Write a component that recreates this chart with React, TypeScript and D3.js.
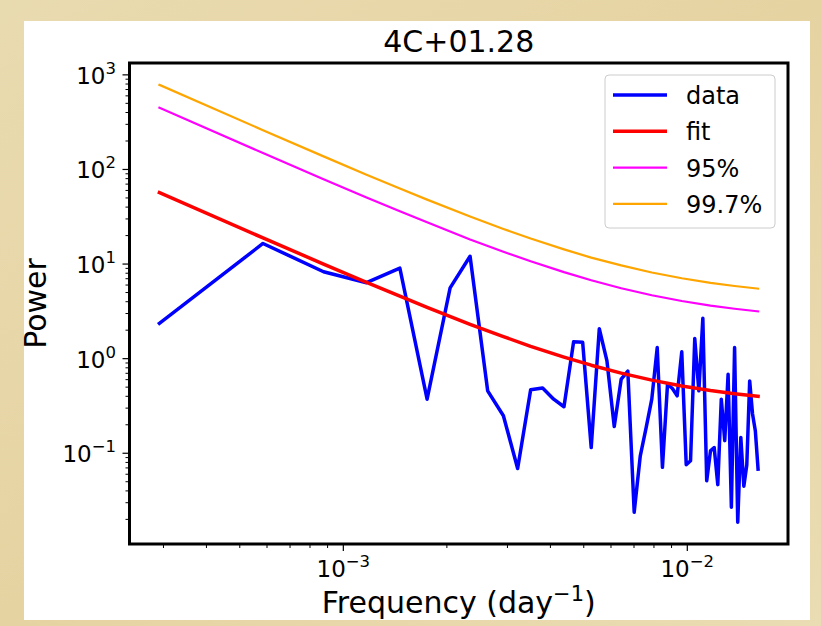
import React from "react";
import * as d3 from "d3";

const title = "4C+01.28";
const xLabel = "Frequency (day";
const yLabel = "Power";

const frequencies = [
  0.000292, 0.000584, 0.000876, 0.001168, 0.00146, 0.001752, 0.002044, 0.002336, 0.002628, 0.00292,
  0.003212, 0.003504, 0.003796, 0.004088, 0.00438, 0.004672, 0.004964, 0.005256, 0.005548, 0.00584,
  0.006132, 0.006424, 0.006716, 0.007008, 0.0073, 0.007592, 0.007884, 0.008176, 0.008468, 0.00876,
  0.009052, 0.009344, 0.009636, 0.009928, 0.01022, 0.010512, 0.010804, 0.011096, 0.011388, 0.01168,
  0.011972, 0.012264, 0.012556, 0.012848, 0.01314, 0.013432, 0.013724, 0.014016, 0.014308, 0.0146,
  0.014892, 0.015184, 0.015476, 0.015768, 0.01606,
];

const power = [
  2.36, 16.5, 8.3, 6.35, 9.05, 0.373, 5.6, 12.1, 0.457, 0.249,
  0.069, 0.468, 0.49, 0.373, 0.31, 1.51, 1.49, 0.115, 2.07, 0.946,
  0.192, 0.607, 0.74, 0.0238, 0.094, 0.187, 0.373, 1.31, 0.071, 0.537,
  0.483, 0.405, 1.18, 0.0757, 0.0834, 1.63, 0.457, 2.67, 0.0513, 0.106,
  0.115, 0.0466, 0.373, 0.136, 0.684, 0.0269, 1.31, 0.0187, 0.147, 0.0448,
  0.0752, 0.582, 0.26, 0.173, 0.068,
];

const curveFrequencies = [
  0.000292, 0.000584, 0.000876, 0.001168, 0.00146, 0.001752, 0.002336, 0.00292, 0.003504,
  0.00438, 0.005256, 0.006424, 0.007884, 0.009636, 0.01168, 0.013724, 0.01606,
];
const fitValues = [57.0, 18.9, 10.0, 6.41, 4.57, 3.49, 2.31, 1.71, 1.35, 1.04, 0.853, 0.703, 0.593, 0.515, 0.46, 0.426, 0.4];
const conf95 = [450, 149, 79.0, 50.6, 36.1, 27.6, 18.2, 13.5, 10.7, 8.22, 6.74, 5.55, 4.68, 4.07, 3.63, 3.37, 3.16];
const conf997 = [784, 260, 137.5, 88.1, 62.8, 48.0, 31.8, 23.5, 18.6, 14.3, 11.7, 9.67, 8.15, 7.08, 6.33, 5.86, 5.5];

const xTickExps = [-3, -2];
const yTickExps = [-1, 0, 1, 2, 3];
const legendLabels = ["data", "fit", "95%", "99.7%"];
const legendColors = ["#0000ff", "#ff0000", "#ff00ff", "#ffa500"];
const legendWidths = [3.5, 3.5, 2.2, 2.2];

const W = 821;
const H = 626;
const M = { left: 129.5, right: 788, top: 63, bottom: 544 };
const FONT = "DejaVu Sans, sans-serif";

function logDomain(vals: number[]): [number, number] {
  const [lo, hi] = d3.extent(vals.map((v) => Math.log10(v))) as [number, number];
  const pad = (hi - lo) * 0.05;
  return [Math.pow(10, lo - pad), Math.pow(10, hi + pad)];
}

function minorTicks(domain: [number, number]) {
  const out: number[] = [];
  for (let e = -6; e <= 6; e++) {
    for (let m = 2; m <= 9; m++) {
      const v = m * Math.pow(10, e);
      if (v >= domain[0] && v <= domain[1]) out.push(v);
    }
  }
  return out;
}

export default function App() {
  const xDom = logDomain(frequencies);
  const yDom = logDomain([...power, ...fitValues, ...conf95, ...conf997]);
  const x = d3.scaleLog().domain(xDom).range([M.left, M.right]);
  const y = d3.scaleLog().domain(yDom).range([M.bottom, M.top]);

  const line = d3
    .line<[number, number]>()
    .x((d) => x(d[0]))
    .y((d) => y(d[1]));

  const dataPts = frequencies.map((f, i) => [f, power[i]] as [number, number]);
  const curve = (vals: number[]) => curveFrequencies.map((f, i) => [f, vals[i]] as [number, number]);

  const xMinor = minorTicks(xDom);
  const yMinor = minorTicks(yDom);

  const lx = 605;
  const ly = 75;
  const rowH = 36.3;

  return (
    <svg width={W} height={H} style={{ position: "absolute", left: 0, top: 0 }} fontFamily={FONT}>
      <defs>
        <linearGradient id="parch" x1="0" y1="0" x2="1" y2="1">
          <stop offset="0" stopColor="#e9dbb0" />
          <stop offset="0.5" stopColor="#e6d3a2" />
          <stop offset="1" stopColor="#eadcb3" />
        </linearGradient>
        <clipPath id="plotclip">
          <rect x={M.left} y={M.top} width={M.right - M.left} height={M.bottom - M.top} />
        </clipPath>
      </defs>
      <rect x={0} y={0} width={W} height={H} fill="url(#parch)" />
      <rect x={24} y={21} width={786} height={599} fill="#ffffff" />

      <text x={(M.left + M.right) / 2} y={52} textAnchor="middle" fontSize={30} fill="#000">
        {title}
      </text>

      <g clipPath="url(#plotclip)" fill="none" strokeLinejoin="round" strokeLinecap="square">
        <path d={line(dataPts) || ""} stroke="#0000ff" strokeWidth={3.5} />
        <path d={line(curve(fitValues)) || ""} stroke="#ff0000" strokeWidth={3.5} />
        <path d={line(curve(conf95)) || ""} stroke="#ff00ff" strokeWidth={2.2} />
        <path d={line(curve(conf997)) || ""} stroke="#ffa500" strokeWidth={2.2} />
      </g>

      {/* x ticks */}
      {xTickExps.map((e) => {
        const px = x(Math.pow(10, e));
        return (
          <g key={"xt" + e}>
            <line x1={px} x2={px} y1={M.bottom} y2={M.bottom + 7} stroke="#000" strokeWidth={1.2} />
            <text x={px} y={577} textAnchor="middle" fontSize={23} fill="#000">
              10
              <tspan dy={-10} fontSize={16.5}>
                {"\u2212" + Math.abs(e)}
              </tspan>
            </text>
          </g>
        );
      })}
      {xMinor.map((v, i) => (
        <line key={"xm" + i} x1={x(v)} x2={x(v)} y1={M.bottom} y2={M.bottom + 4} stroke="#000" strokeWidth={1} />
      ))}

      {/* y ticks */}
      {yTickExps.map((e) => {
        const py = y(Math.pow(10, e));
        return (
          <g key={"yt" + e}>
            <line x1={M.left - 7} x2={M.left} y1={py} y2={py} stroke="#000" strokeWidth={1.2} />
            <text x={116} y={py + 9} textAnchor="end" fontSize={23} fill="#000">
              10
              <tspan dy={-10} fontSize={16.5}>
                {e < 0 ? "\u2212" + Math.abs(e) : String(e)}
              </tspan>
            </text>
          </g>
        );
      })}
      {yMinor.map((v, i) => (
        <line key={"ym" + i} x1={M.left - 4} x2={M.left} y1={y(v)} y2={y(v)} stroke="#000" strokeWidth={1} />
      ))}

      {/* frame */}
      <rect
        x={M.left}
        y={M.top}
        width={M.right - M.left}
        height={M.bottom - M.top}
        fill="none"
        stroke="#000"
        strokeWidth={3}
      />

      {/* axis labels */}
      <text x={(M.left + M.right) / 2} y={613} textAnchor="middle" fontSize={30} fill="#000">
        {xLabel}
        <tspan dy={-12} fontSize={21}>
          {"\u22121"}
        </tspan>
        <tspan dy={12}>)</tspan>
      </text>
      <text
        transform={`translate(46, ${(M.top + M.bottom) / 2}) rotate(-90)`}
        textAnchor="middle"
        fontSize={30}
        fill="#000"
      >
        {yLabel}
      </text>

      {/* legend */}
      <rect x={lx} y={ly} width={170} height={153} rx={4} fill="#ffffff" fillOpacity={0.8} stroke="#cccccc" strokeWidth={1} />
      {legendLabels.map((lab, i) => {
        const ry = ly + 20 + i * rowH;
        return (
          <g key={lab}>
            <line x1={lx + 8} x2={lx + 62} y1={ry} y2={ry} stroke={legendColors[i]} strokeWidth={legendWidths[i]} />
            <text x={lx + 81} y={ry + 9} fontSize={24} fill="#000">
              {lab}
            </text>
          </g>
        );
      })}
    </svg>
  );
}
